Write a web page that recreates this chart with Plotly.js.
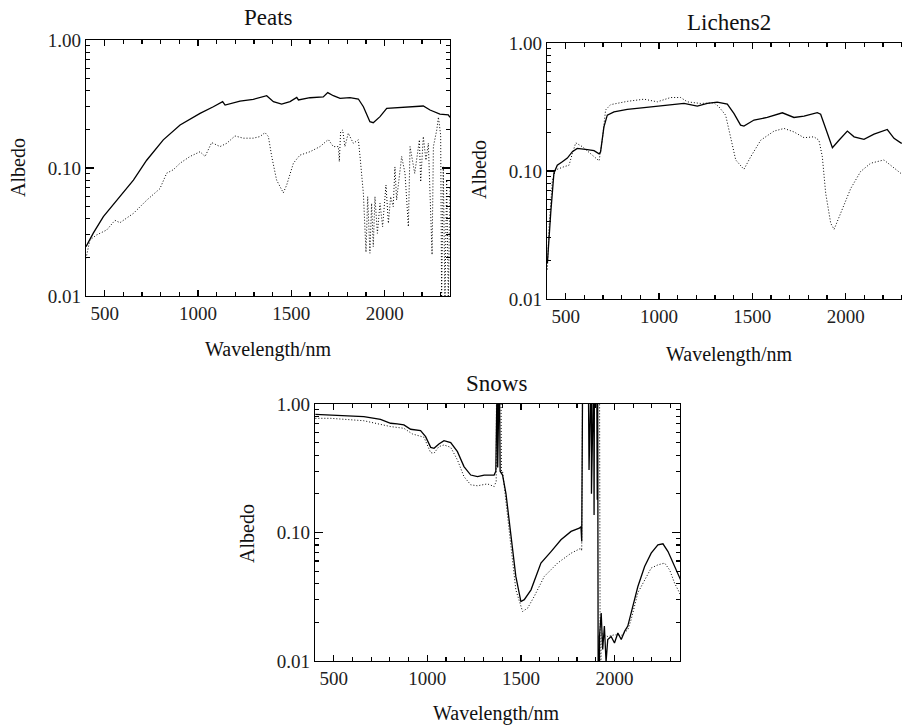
<!DOCTYPE html>
<html><head><meta charset="utf-8">
<script src="https://cdn.plot.ly/plotly-3.0.1.min.js"></script>
<style>html,body{margin:0;padding:0;overflow:hidden;background:#fff;width:902px;height:725px}#chart{width:912px;height:725px}</style>
</head><body><div id="chart"></div><script>
// ---------------- data ----------------
const panelTitles = ['Peats', 'Lichens2', 'Snows'];
const xTitle = 'Wavelength/nm';
const yTitle = 'Albedo';

const peatsSolidWl = [400,439,493,564,654,725,814,904,1011,1082,1132,1145,1225,1296,1368,1404,1448,1493,1529,1538,1600,1671,1695,1725,1761,1814,1859,1886,1921,1939,1975,2011,2082,2154,2207,2243,2296,2341,2350];
const peatsSolidAlb = [0.0243,0.031,0.0417,0.056,0.0805,0.115,0.166,0.217,0.267,0.301,0.33,0.31,0.333,0.344,0.367,0.33,0.316,0.33,0.356,0.34,0.354,0.359,0.388,0.367,0.35,0.355,0.346,0.301,0.230,0.226,0.252,0.292,0.296,0.301,0.305,0.284,0.264,0.26,0.249];

const peatsDotWl = [400,421,457,511,555,582,654,725,796,832,868,904,957,1011,1038,1073,1118,1154,1198,1243,1296,1332,1359,1377,1395,1421,1457,1475,1511,1546,1600,1654,1698,1725,1752,1757,1764,1775,1787,1805,1832,1859,1868,1886,1900,1909,1921,1930,1939,1948,1961,1975,1989,2007,2020,2032,2046,2055,2064,2091,2109,2127,2136,2161,2186,2193,2207,2221,2234,2243,2254,2261,2279,2288,2300,2305,2314,2323,2332,2341,2350];
const peatsDotAlb = [0.0197,0.0274,0.030,0.0328,0.039,0.0374,0.0442,0.056,0.069,0.091,0.097,0.109,0.123,0.134,0.123,0.158,0.147,0.156,0.178,0.171,0.171,0.176,0.189,0.176,0.123,0.0805,0.064,0.0736,0.109,0.126,0.134,0.147,0.167,0.147,0.147,0.112,0.192,0.198,0.147,0.187,0.156,0.166,0.123,0.063,0.022,0.0597,0.0216,0.053,0.0243,0.0597,0.0309,0.053,0.0348,0.0736,0.037,0.0597,0.0499,0.102,0.0562,0.123,0.0908,0.0348,0.147,0.0908,0.166,0.078,0.176,0.115,0.156,0.0673,0.021,0.147,0.198,0.25,0.18,0.0098,0.102,0.0095,0.0805,0.0095,0.0715];

const lichSolidWl = [402,411,420,437,455,482,509,536,562,616,652,679,687,705,723,759,830,920,1009,1134,1205,1259,1312,1366,1402,1437,1455,1509,1580,1661,1723,1777,1848,1866,1902,1929,1964,2009,2045,2098,2152,2223,2259,2295,2350];
const lichSolidAlb = [0.019,0.0327,0.047,0.096,0.111,0.118,0.126,0.1415,0.150,0.147,0.144,0.136,0.141,0.221,0.273,0.29,0.303,0.313,0.321,0.337,0.321,0.337,0.345,0.333,0.281,0.228,0.224,0.25,0.262,0.285,0.262,0.268,0.286,0.278,0.197,0.152,0.174,0.205,0.185,0.177,0.194,0.211,0.18,0.166,0.16];

const lichDotWl = [402,411,429,446,491,518,536,554,589,634,679,696,714,741,830,920,991,1062,1116,1152,1223,1295,1321,1357,1384,1411,1455,1491,1545,1616,1670,1723,1777,1830,1857,1875,1893,1920,1938,1973,2027,2080,2134,2205,2241,2277,2295,2350];
const lichDotAlb = [0.017,0.0368,0.085,0.102,0.108,0.111,0.137,0.166,0.155,0.137,0.12,0.174,0.3,0.33,0.35,0.364,0.347,0.375,0.375,0.347,0.337,0.341,0.317,0.273,0.185,0.122,0.103,0.129,0.174,0.205,0.215,0.202,0.182,0.185,0.174,0.129,0.067,0.039,0.035,0.047,0.073,0.099,0.115,0.122,0.111,0.1,0.096,0.09];

const snowSolidWl = [402,482,661,750,804,839,875,911,964,991,1018,1036,1062,1089,1125,1161,1196,1232,1268,1304,1357,1366,1368,1374,1376,1379,1385,1389,1402,1420,1446,1473,1500,1518,1554,1607,1661,1714,1768,1812,1821,1825,1830,1860,1864,1866,1876,1877,1879,1889,1891,1893,1905,1908,1910,1913,1918,1920,1929,1937,1946,1955,1964,1982,2000,2018,2036,2054,2071,2089,2125,2161,2196,2232,2259,2286,2313,2339,2357];
const snowSolidAlb = [0.83,0.821,0.797,0.76,0.708,0.70,0.687,0.636,0.621,0.557,0.46,0.452,0.489,0.519,0.501,0.426,0.326,0.28,0.272,0.28,0.28,0.30,2,2,0.32,2,2,0.3,0.28,0.202,0.099,0.0455,0.029,0.030,0.0358,0.0578,0.071,0.0877,0.102,0.108,0.111,0.085,2,2,0.307,2,2,0.2,2,2,0.137,2,2,0.18,2,0.005,0.005,0.0155,0.0236,0.0123,0.0187,0.0098,0.0147,0.0155,0.0138,0.0165,0.0147,0.017,0.0187,0.0236,0.038,0.0544,0.069,0.080,0.0817,0.071,0.058,0.0469,0.0416];

const snowDotWl = [402,482,661,804,875,920,982,1018,1036,1062,1089,1125,1161,1196,1232,1268,1321,1357,1368,1370,1393,1396,1402,1420,1446,1473,1509,1536,1571,1625,1696,1768,1821,1825,1830,1920,1924,1927,1929,1964,2000,2036,2071,2089,2125,2161,2196,2232,2268,2295,2321,2348,2357];
const snowDotAlb = [0.774,0.774,0.741,0.667,0.647,0.585,0.551,0.418,0.414,0.466,0.48,0.46,0.367,0.272,0.235,0.231,0.239,0.228,0.25,2,2,0.29,0.3,0.179,0.078,0.0358,0.0243,0.0258,0.0318,0.0455,0.0578,0.069,0.0755,0.072,2,2,0.005,0.005,0.0165,0.0155,0.016,0.0158,0.0175,0.021,0.034,0.043,0.0529,0.056,0.0578,0.051,0.0404,0.0338,0.0299];

// ---------------- layout helpers ----------------
const W = 912, H = 725;
const px = v => v / W;
const py = v => 1 - v / H;
const FONT = 'Liberation Serif';

function solid(x, y, xa, ya) {
  return {x, y, xaxis: xa, yaxis: ya, type: 'scatter', mode: 'lines',
    line: {color: '#000', width: 1.3}, hoverinfo: 'skip', showlegend: false};
}
function dotted(x, y, xa, ya) {
  return {x, y, xaxis: xa, yaxis: ya, type: 'scatter', mode: 'lines',
    line: {color: '#000', width: 1, dash: '1px,2px'}, hoverinfo: 'skip', showlegend: false};
}

const data = [
  solid(peatsSolidWl, peatsSolidAlb, 'x', 'y'),
  dotted(peatsDotWl, peatsDotAlb, 'x', 'y'),
  solid(lichSolidWl, lichSolidAlb, 'x2', 'y2'),
  dotted(lichDotWl, lichDotAlb, 'x2', 'y2'),
  solid(snowSolidWl, snowSolidAlb, 'x3', 'y3'),
  dotted(snowDotWl, snowDotAlb, 'x3', 'y3')
];

function xax(l, r, anchor) {
  return {domain: [px(l), px(r)], anchor, range: [400, 2350], tick0: 0, dtick: 500,
    ticks: 'inside', ticklen: 6, tickwidth: 1.2, tickcolor: '#000',
    minor: {ticks: 'inside', ticklen: 4, dtick: 100, tickcolor: '#000', tickwidth: 1.1},
    showline: true, linecolor: '#000', linewidth: 1.2, mirror: 'ticks',
    showgrid: false, zeroline: false,
    tickfont: {family: FONT, size: 19, color: '#222'}};
}
function yax(t, b, anchor) {
  return {domain: [py(b), py(t)], anchor, type: 'log', range: [-2, 0], dtick: 1, tickformat: '.2f',
    ticks: 'inside', ticklen: 8, tickwidth: 1.2, tickcolor: '#000',
    minor: {ticks: 'inside', ticklen: 4, dtick: 'D1', tickcolor: '#000', tickwidth: 1.1},
    showline: true, linecolor: '#000', linewidth: 1.2, mirror: 'ticks',
    showgrid: false, zeroline: false,
    tickfont: {family: FONT, size: 19, color: '#222'}};
}

function ann(text, x, y, size, angle) {
  return {text, x: px(x), y: py(y), xref: 'paper', yref: 'paper', showarrow: false,
    xanchor: 'center', yanchor: 'middle', textangle: angle || 0,
    font: {family: FONT, size, color: '#111'}};
}

const layout = {
  width: W, height: H, margin: {l: 0, r: 0, t: 0, b: 0},
  paper_bgcolor: '#fff', plot_bgcolor: '#fff', showlegend: false,
  font: {family: FONT},
  xaxis: xax(86, 450, 'y'),   yaxis: yax(40, 296, 'x'),
  xaxis2: xax(547, 911, 'y2'), yaxis2: yax(43, 299, 'x2'),
  xaxis3: xax(315, 680, 'y3'), yaxis3: yax(404, 661, 'x3'),
  annotations: [
    ann(panelTitles[0], 268, 18, 23), ann(panelTitles[1], 729, 22, 23), ann(panelTitles[2], 497, 383, 23),
    ann(xTitle, 268, 349, 20), ann(xTitle, 729, 354, 20), ann(xTitle, 497, 713, 20),
    ann(yTitle, 18, 168, 20, -90), ann(yTitle, 479, 170, 20, -90), ann(yTitle, 247, 533, 20, -90)
  ]
};

Plotly.newPlot('chart', data, layout, {staticPlot: true, displayModeBar: false});
</script></body></html>
